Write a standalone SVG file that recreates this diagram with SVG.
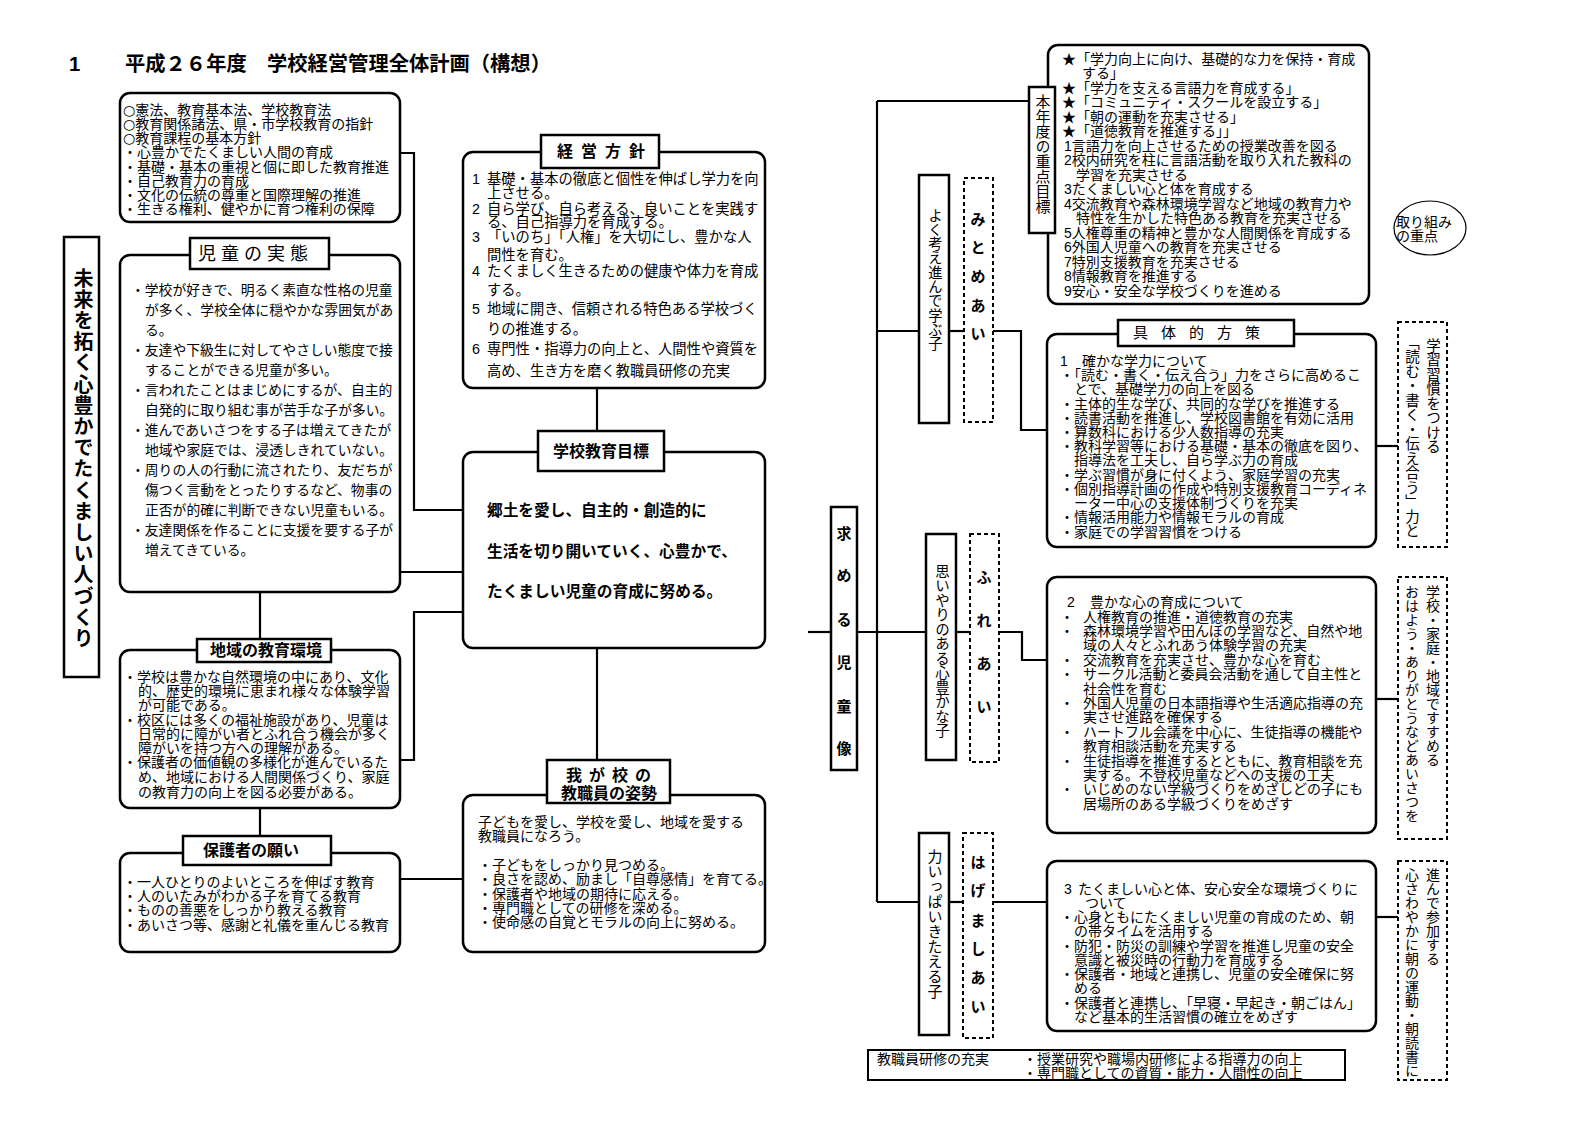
<svg xmlns="http://www.w3.org/2000/svg" width="1587" height="1123" viewBox="0 0 1587 1123">
<style>
svg{font-family:"Liberation Sans","Noto Sans CJK JP",sans-serif;font-size:14px}
.box{fill:#fff;stroke:#000;stroke-width:2.5}
.tb{fill:#fff;stroke:#000;stroke-width:2.5}
.dash{fill:#fff;stroke:#000;stroke-width:2;stroke-dasharray:4 3}
.ln{fill:none;stroke:#000;stroke-width:2.2}
text{fill:#000}
.cir{font-family:"DejaVu Sans",sans-serif}
.b{font-weight:bold}
.v{writing-mode:vertical-rl}
.m{text-anchor:middle}
</style>
<rect width="1587" height="1123" fill="#fff"/>
<g id="title">
<text class="b" x="69" y="71" style="font-size:20.3px">1</text>
<text class="b" x="125" y="71" style="font-size:20.3px">平成２６年度　学校経営管理全体計画（構想）</text>
</g>
<g id="connectors">
<polyline class="ln" points="400,153 414,153 414,510 463,510"/>
<polyline class="ln" points="400,572 463,572"/>
<polyline class="ln" points="400,760 414,760 414,612 463,612"/>
<polyline class="ln" points="260,592 260,639"/>
<polyline class="ln" points="260,808 260,836"/>
<polyline class="ln" points="597,388 597,431"/>
<polyline class="ln" points="597,648 597,760"/>
<polyline class="ln" points="400,879 463,879"/>
<polyline class="ln" points="877,101 877,902"/>
<polyline class="ln" points="877,101 1029,101"/>
<polyline class="ln" points="877,331 919,331"/>
<polyline class="ln" points="949,331 964,331"/>
<polyline class="ln" points="993,331 1021,331 1021,430 1047,430"/>
<polyline class="ln" points="808,632 831,632"/>
<polyline class="ln" points="857,632 926,632"/>
<polyline class="ln" points="956,632 970,632"/>
<polyline class="ln" points="999,632 1022,632 1022,660 1047,660"/>
<polyline class="ln" points="877,902 919,902"/>
<polyline class="ln" points="949,902 963,902"/>
<polyline class="ln" points="993,902 1047,902"/>
<polyline class="ln" points="1376,446 1398,446"/>
<polyline class="ln" points="1376,699 1398,699"/>
<polyline class="ln" points="1376,917 1398,917"/>
</g>
<g id="laws">
<rect class="box" x="120" y="93" width="280" height="129" rx="10"/>
<text x="123" y="115"><tspan class="cir">○</tspan>憲法、教育基本法、学校教育法</text>
<text x="123" y="129"><tspan class="cir">○</tspan>教育関係諸法、県・市学校教育の指針</text>
<text x="123" y="143"><tspan class="cir">○</tspan>教育課程の基本方針</text>
<text x="123" y="157">・心豊かでたくましい人間の育成</text>
<text x="123" y="172">・基礎・基本の重視と個に即した教育推進</text>
<text x="123" y="186">・自己教育力の育成</text>
<text x="123" y="200">・文化の伝統の尊重と国際理解の推進</text>
<text x="123" y="214">・生きる権利、健やかに育つ権利の保障</text>
</g>
<g id="slogan">
<rect class="tb" x="64" y="237" width="35" height="440"/>
<text class="v b" x="82" y="268" style="font-size:20px;letter-spacing:1.2px">未来を拓く心豊かでたくましい人づくり</text>
</g>
<g id="jidou">
<rect class="box" x="120" y="255" width="280" height="337" rx="10"/>
<rect class="tb" x="190" y="238" width="139" height="31"/>
<text x="198" y="260" style="font-size:18px;letter-spacing:5px">児童の実態</text>
<g style="font-size:13.8px">
<text x="131" y="295">・学校が好きで、明るく素直な性格の児童</text>
<text x="145" y="315">が多く、学校全体に穏やかな雰囲気があ</text>
<text x="145" y="335">る。</text>
<text x="131" y="355">・友達や下級生に対してやさしい態度で接</text>
<text x="145" y="375">することができる児童が多い。</text>
<text x="131" y="395">・言われたことはまじめにするが、自主的</text>
<text x="145" y="415">自発的に取り組む事が苦手な子が多い。</text>
<text x="131" y="435">・進んであいさつをする子は増えてきたが</text>
<text x="145" y="455">地域や家庭では、浸透しきれていない。</text>
<text x="131" y="475">・周りの人の行動に流されたり、友だちが</text>
<text x="145" y="495">傷つく言動をとったりするなど、物事の</text>
<text x="145" y="515">正否が的確に判断できない児童もいる。</text>
<text x="131" y="535">・友達関係を作ることに支援を要する子が</text>
<text x="145" y="555">増えてきている。</text>
</g>
</g>
<g id="chiiki">
<rect class="box" x="120" y="650" width="280" height="158" rx="10"/>
<rect class="tb" x="197" y="639" width="134" height="23"/>
<text class="b" x="210" y="656" style="font-size:16px">地域の教育環境</text>
<text x="123" y="682">・学校は豊かな自然環境の中にあり、文化</text>
<text x="138" y="696">的、歴史的環境に恵まれ様々な体験学習</text>
<text x="138" y="710">が可能である。</text>
<text x="123" y="725">・校区には多くの福祉施設があり、児童は</text>
<text x="138" y="739">日常的に障がい者とふれ合う機会が多く</text>
<text x="138" y="753">障がいを持つ方への理解がある。</text>
<text x="123" y="767">・保護者の価値観の多様化が進んでいるた</text>
<text x="138" y="782">め、地域における人間関係づくり、家庭</text>
<text x="138" y="797">の教育力の向上を図る必要がある。</text>
</g>
<g id="hogosha">
<rect class="box" x="120" y="853" width="280" height="99" rx="10"/>
<rect class="tb" x="183" y="836" width="148" height="29"/>
<text class="b" x="203" y="856" style="font-size:16px">保護者の願い</text>
<text x="123" y="887">・一人ひとりのよいところを伸ばす教育</text>
<text x="123" y="901">・人のいたみがわかる子を育てる教育</text>
<text x="123" y="915">・ものの善悪をしっかり教える教育</text>
<text x="123" y="930">・あいさつ等、感謝と礼儀を重んじる教育</text>
</g>
<g id="keiei">
<rect class="box" x="463" y="152" width="302" height="236" rx="10"/>
<rect class="tb" x="541" y="135" width="118" height="33"/>
<text class="b" x="557" y="157" style="font-size:16px;letter-spacing:8px">経営方針</text>
<g style="font-size:14.3px">
<text x="472" y="184">1</text><text x="487" y="184">基礎・基本の徹底と個性を伸ばし学力を向</text>
<text x="487" y="198">上させる。</text>
<text x="472" y="214">2</text><text x="487" y="214">自ら学び、自ら考える、良いことを実践す</text>
<text x="487" y="227">る、自己指導力を育成する。</text>
<text x="472" y="242">3</text><text x="487" y="242">「いのち」「人権」を大切にし、豊かな人</text>
<text x="487" y="260">間性を育む。</text>
<text x="472" y="276">4</text><text x="487" y="276">たくましく生きるための健康や体力を育成</text>
<text x="487" y="295">する。</text>
<text x="472" y="314">5</text><text x="487" y="314">地域に開き、信頼される特色ある学校づく</text>
<text x="487" y="334">りの推進する。</text>
<text x="472" y="354">6</text><text x="487" y="354">専門性・指導力の向上と、人間性や資質を</text>
<text x="487" y="376">高め、生き方を磨く教職員研修の充実</text>
</g>
</g>
<g id="mokuhyo">
<rect class="box" x="463" y="452" width="302" height="196" rx="10"/>
<rect class="tb" x="538" y="431" width="126" height="40"/>
<text class="b" x="553" y="457" style="font-size:16px">学校教育目標</text>
<g class="b" style="font-size:15.7px">
<text x="487" y="516">郷土を愛し、自主的・創造的に</text>
<text x="487" y="557">生活を切り開いていく、心豊かで、</text>
<text x="487" y="597">たくましい児童の育成に努める。</text>
</g>
</g>
<g id="kyoshokuin">
<rect class="box" x="463" y="795" width="302" height="157" rx="10"/>
<rect class="tb" x="547" y="760" width="123" height="43"/>
<text class="b m" x="612" y="781" style="font-size:16px;letter-spacing:7px">我が校の</text>
<text class="b m" x="609" y="799" style="font-size:16px">教職員の姿勢</text>
<text x="478" y="827">子どもを愛し、学校を愛し、地域を愛する</text>
<text x="478" y="841">教職員になろう。</text>
<text x="478" y="870">・子どもをしっかり見つめる。</text>
<text x="478" y="884">・良さを認め、励まし「自尊感情」を育てる。</text>
<text x="478" y="899">・保護者や地域の期待に応える。</text>
<text x="478" y="913">・専門職としての研修を深める。</text>
<text x="478" y="927">・使命感の自覚とモラルの向上に努める。</text>
</g>
<g id="jutenmokuhyo">
<rect class="box" x="1048" y="45" width="321" height="259" rx="10"/>
<rect class="tb" x="1029" y="87" width="26" height="146"/>
<text class="v" x="1042" y="94" style="font-size:15px">本年度の重点目標</text>
<text x="1062" y="64">★「学力向上に向け、基礎的な力を保持・育成</text>
<text x="1082" y="78">する」</text>
<text x="1062" y="93">★「学力を支える言語力を育成する」</text>
<text x="1062" y="107">★「コミュニティ・スクールを設立する」</text>
<text x="1062" y="122">★「朝の運動を充実させる」</text>
<text x="1062" y="136">★「道徳教育を推進する」」</text>
<text x="1064" y="151">1言語力を向上させるための授業改善を図る</text>
<text x="1064" y="165">2校内研究を柱に言語活動を取り入れた教科の</text>
<text x="1076" y="180">学習を充実させる</text>
<text x="1064" y="194">3たくましい心と体を育成する</text>
<text x="1064" y="209">4交流教育や森林環境学習など地域の教育力や</text>
<text x="1076" y="223">特性を生かした特色ある教育を充実させる</text>
<text x="1064" y="238">5人権尊重の精神と豊かな人間関係を育成する</text>
<text x="1064" y="252">6外国人児童への教育を充実させる</text>
<text x="1064" y="267">7特別支援教育を充実させる</text>
<text x="1064" y="281">8情報教育を推進する</text>
<text x="1064" y="296">9安心・安全な学校づくりを進める</text>
</g>
<g id="torikumi">
<ellipse cx="1430" cy="228" rx="36" ry="27" fill="#fff" stroke="#000" stroke-width="1.2"/>
<text x="1396" y="227">取り組み</text>
<text x="1396" y="241">の重点</text>
</g>
<g id="motomeru">
<rect class="tb" x="831" y="507" width="26" height="263"/>
<g class="b m" style="font-size:15px">
<text x="844" y="539">求</text><text x="844" y="581">め</text><text x="844" y="625">る</text>
<text x="844" y="668">児</text><text x="844" y="712">童</text><text x="844" y="754">像</text>
</g>
</g>
<g id="yokukangae">
<rect class="tb" x="919" y="175" width="30" height="248"/>
<text class="v" x="934" y="208" style="font-size:14.3px">よく考え進んで学ぶ子</text>
</g>
<g id="mitomeai">
<rect class="dash" x="964" y="178" width="29" height="244"/>
<g class="b m" style="font-size:15px">
<text x="978" y="225">み</text><text x="978" y="253">と</text><text x="978" y="282">め</text>
<text x="978" y="311">あ</text><text x="978" y="339">い</text>
</g>
</g>
<g id="omoiyari">
<rect class="tb" x="926" y="534" width="30" height="226"/>
<text class="v" x="941" y="564" style="font-size:14.5px">思いやりのある心豊かな子</text>
</g>
<g id="fureai">
<rect class="dash" x="970" y="534" width="29" height="228"/>
<g class="b m" style="font-size:15px">
<text x="984" y="583">ふ</text><text x="984" y="626">れ</text><text x="984" y="669">あ</text><text x="984" y="712">い</text>
</g>
</g>
<g id="chikaraippai">
<rect class="tb" x="919" y="833" width="30" height="202"/>
<text class="v" x="934" y="849" style="font-size:15px">力いっぱいきたえる子</text>
</g>
<g id="hagemashiai">
<rect class="dash" x="963" y="833" width="30" height="205"/>
<g class="b m" style="font-size:15px">
<text x="978" y="868">は</text><text x="978" y="896">げ</text><text x="978" y="926">ま</text>
<text x="978" y="954">し</text><text x="978" y="983">あ</text><text x="978" y="1012">い</text>
</g>
</g>
<g id="gutaiteki">
<rect class="box" x="1047" y="334" width="329" height="213" rx="10"/>
<rect class="tb" x="1118" y="320" width="176" height="26"/>
<text x="1133" y="338" style="font-size:15px;letter-spacing:13px">具体的方策</text>
<text x="1060" y="366">1</text><text x="1082" y="366">確かな学力について</text>
<text x="1060" y="380">・「読む・書く・伝え合う」力をさらに高めるこ</text>
<text x="1074" y="394">とで、基礎学力の向上を図る</text>
<text x="1060" y="409">・主体的生な学び、共同的な学びを推進する</text>
<text x="1060" y="423">・読書活動を推進し、学校図書館を有効に活用</text>
<text x="1060" y="437">・算数科における少人数指導の充実</text>
<text x="1060" y="451">・教科学習等における基礎・基本の徹底を図り、</text>
<text x="1074" y="465">指導法を工夫し、自ら学ぶ力の育成</text>
<text x="1060" y="480">・学ぶ習慣が身に付くよう、家庭学習の充実</text>
<text x="1060" y="494">・個別指導計画の作成や特別支援教育コーディネ</text>
<text x="1074" y="508">ーター中心の支援体制づくりを充実</text>
<text x="1060" y="522">・情報活用能力や情報モラルの育成</text>
<text x="1060" y="537">・家庭での学習習慣をつける</text>
</g>
<g id="gakushu">
<rect class="dash" x="1398" y="322" width="49" height="225"/>
<text class="v" x="1432" y="338" style="font-size:14.5px">学習習慣をつける</text>
<text class="v" x="1411" y="335" style="font-size:14.5px">「読む・書く・伝え合う」力と</text>
</g>
<g id="yutakanakokoro">
<rect class="box" x="1047" y="577" width="329" height="256" rx="10"/>
<text x="1067" y="607">2</text><text x="1090" y="607">豊かな心の育成について</text>
<text x="1060" y="622">・</text><text x="1083" y="622">人権教育の推進・道徳教育の充実</text>
<text x="1060" y="636">・</text><text x="1083" y="636">森林環境学習や田んぼの学習など、自然や地</text>
<text x="1083" y="650">域の人々とふれあう体験学習の充実</text>
<text x="1060" y="665">・</text><text x="1083" y="665">交流教育を充実させ、豊かな心を育む</text>
<text x="1060" y="679">・</text><text x="1083" y="679">サークル活動と委員会活動を通して自主性と</text>
<text x="1083" y="694">社会性を育む</text>
<text x="1060" y="708">・</text><text x="1083" y="708">外国人児童の日本語指導や生活適応指導の充</text>
<text x="1083" y="722">実させ進路を確保する</text>
<text x="1060" y="737">・</text><text x="1083" y="737">ハートフル会議を中心に、生徒指導の機能や</text>
<text x="1083" y="751">教育相談活動を充実する</text>
<text x="1060" y="766">・</text><text x="1083" y="766">生徒指導を推進するとともに、教育相談を充</text>
<text x="1083" y="780">実する。不登校児童などへの支援の工夫</text>
<text x="1060" y="794">・</text><text x="1083" y="794">いじめのない学級づくりをめざしどの子にも</text>
<text x="1083" y="809">居場所のある学級づくりをめざす</text>
</g>
<g id="aisatsu">
<rect class="dash" x="1398" y="577" width="49" height="262"/>
<text class="v" x="1432" y="585" style="font-size:14px">学校・家庭・地域ですすめる</text>
<text class="v" x="1411" y="585" style="font-size:14px">おはよう・ありがとうなどあいさつを</text>
</g>
<g id="takumashii">
<rect class="box" x="1047" y="861" width="329" height="170" rx="10"/>
<text x="1064" y="894">3</text><text x="1078" y="894">たくましい心と体、安心安全な環境づくりに</text>
<text x="1085" y="908">ついて</text>
<text x="1060" y="922">・心身ともにたくましい児童の育成のため、朝</text>
<text x="1074" y="936">の帯タイムを活用する</text>
<text x="1060" y="951">・防犯・防災の訓練や学習を推進し児童の安全</text>
<text x="1074" y="965">意識と被災時の行動力を育成する</text>
<text x="1060" y="979">・保護者・地域と連携し、児童の安全確保に努</text>
<text x="1074" y="993">める</text>
<text x="1060" y="1008">・保護者と連携し、「早寝・早起き・朝ごはん」</text>
<text x="1074" y="1022">など基本的生活習慣の確立をめざす</text>
</g>
<g id="asanoundo">
<rect class="dash" x="1398" y="861" width="49" height="219"/>
<text class="v" x="1432" y="868" style="font-size:14px">進んで参加する</text>
<text class="v" x="1411" y="868" style="font-size:14px">心さわやかに朝の運動・朝読書に</text>
</g>
<g id="kenshu">
<rect x="868" y="1050" width="477" height="30" fill="none" stroke="#000" stroke-width="2"/>
<text x="877" y="1064">教職員研修の充実</text>
<text x="1023" y="1064">・授業研究や職場内研修による指導力の向上</text>
<text x="1023" y="1078">・専門職としての資質・能力・人間性の向上</text>
</g>
</svg>
